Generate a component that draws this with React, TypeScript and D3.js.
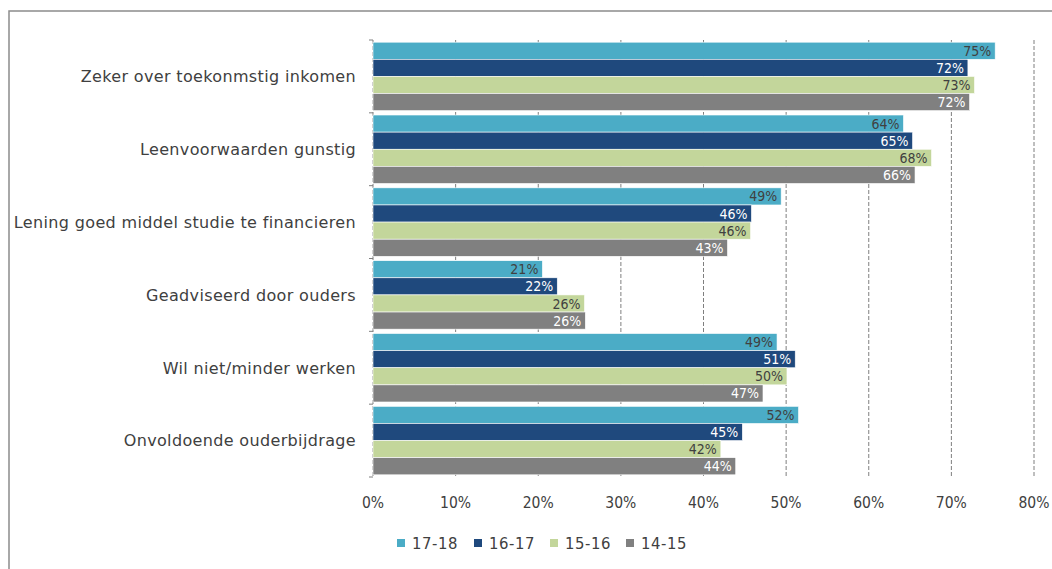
import * as d3 from 'd3'

const categories = [
  'Zeker over toekonmstig inkomen',
  'Leenvoorwaarden gunstig',
  'Lening goed middel studie te financieren',
  'Geadviseerd door ouders',
  'Wil niet/minder werken',
  'Onvoldoende ouderbijdrage',
]
const series = ['17-18', '16-17', '15-16', '14-15']
const colors = ['#4BACC6', '#1F497D', '#C3D69B', '#808080']
const labelColors = ['#404040', '#ffffff', '#404040', '#ffffff']

// values per series, in category order
const v1718 = [75.3, 64.2, 49.4, 20.5, 48.9, 51.5]
const v1617 = [72.0, 65.3, 45.8, 22.3, 51.1, 44.7]
const v1516 = [72.8, 67.6, 45.7, 25.6, 50.1, 42.1]
const v1415 = [72.2, 65.6, 42.9, 25.7, 47.2, 43.9]
const values = [v1718, v1617, v1516, v1415]
const ticks = [0, 10, 20, 30, 40, 50, 60, 70, 80]

const W = 1052
const H = 569
const COND = '"DejaVu Sans Condensed", "DejaVu Sans", sans-serif'
const WIDE = '"DejaVu Sans", sans-serif'

export default function App() {
  const x = d3.scaleLinear().domain([0, 80]).range([373, 1034])
  const y = d3
    .scaleBand<string>()
    .domain(categories)
    .range([40, 477])
    .paddingInner(0.06)
    .paddingOuter(0.03)
  const yInner = d3.scaleBand<string>().domain(series).range([0, y.bandwidth()])

  const legendX = [397, 474, 550, 626]

  return (
    <div style={{ position: 'absolute', left: 0, top: 0 }}>
      <svg width={W} height={H} style={{ display: 'block', background: '#fff' }}>
        <rect x={9} y={11} width={W} height={H} fill="none" stroke="#8c8c8c" strokeWidth={1.5} />

        {/* grid */}
        {ticks.map((t) => (
          <line
            key={t}
            x1={x(t)}
            x2={x(t)}
            y1={40}
            y2={477}
            stroke="#7f7f7f"
            strokeWidth={1}
            strokeDasharray="4,2"
          />
        ))}
        {/* category ticks on the axis */}
        {[40, ...categories.map((c) => (y(c) as number) + y.bandwidth() + (y.step() - y.bandwidth()) / 2)].map(
          (yy, i) => (
            <line key={i} x1={x(0) - 4} x2={x(0)} y1={yy} y2={yy} stroke="#7f7f7f" />
          )
        )}

        {categories.map((c, ci) => (
          <g key={c} transform={`translate(0,${y(c)})`}>
            {series.map((s, si) => {
              const val = values[si][ci]
              const by = yInner(s) as number
              const bh = yInner.bandwidth()
              return (
                <g key={s}>
                  <rect
                    x={x(0)}
                    y={by}
                    width={x(val) - x(0)}
                    height={bh}
                    fill={colors[si]}
                    stroke="#ffffff"
                    strokeWidth={0.6}
                  />
                  <text
                    x={x(val) - 4}
                    y={by + bh / 2}
                    dy="0.36em"
                    textAnchor="end"
                    fontFamily={COND}
                    fontSize={14}
                    fill={labelColors[si]}
                  >
                    {Math.round(val)}%
                  </text>
                </g>
              )
            })}
            <text
              x={356}
              y={y.bandwidth() / 2}
              dy="0.36em"
              textAnchor="end"
              fontFamily={WIDE}
              fontSize={16}
              letterSpacing={0.35}
              fill="#404040"
            >
              {c}
            </text>
          </g>
        ))}

        {ticks.map((t) => (
          <text
            key={t}
            x={x(t)}
            y={502}
            dy="0.36em"
            textAnchor="middle"
            fontFamily={COND}
            fontSize={15.5}
            fill="#404040"
          >
            {t}%
          </text>
        ))}

        {series.map((s, si) => (
          <g key={s} transform={`translate(${legendX[si]},543)`}>
            <rect x={0} y={-4} width={8} height={8} fill={colors[si]} />
            <text
              x={15}
              y={0}
              dy="0.36em"
              fontFamily={COND}
              fontSize={16.5}
              letterSpacing={0.6}
              fill="#404040"
            >
              {s}
            </text>
          </g>
        ))}
      </svg>
    </div>
  )
}
